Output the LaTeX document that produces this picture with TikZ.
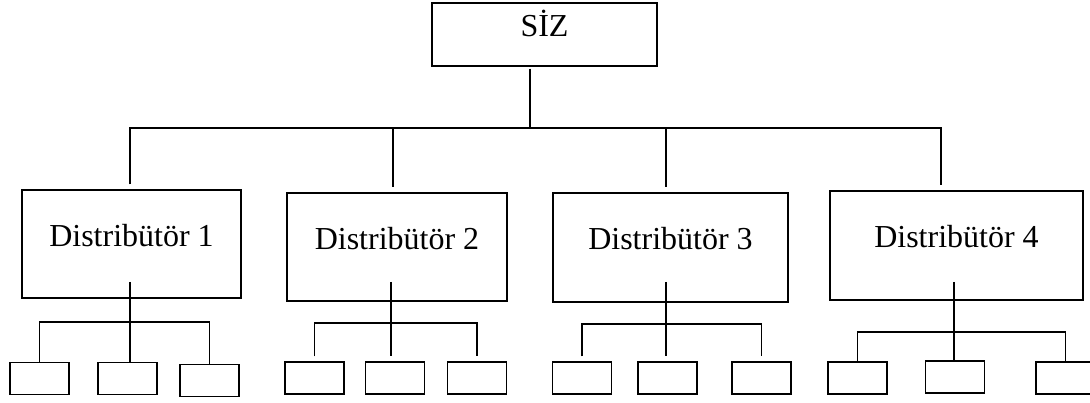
\documentclass[tikz,border=0pt]{standalone}
\usepackage{fontspec}
\setmainfont{Liberation Serif}

\begin{document}
\begin{tikzpicture}[x=1pt,y=-1pt,line width=1.3pt,
	box/.style={draw,rectangle,inner sep=0pt,font=\fontsize{32}{38}\selectfont,text height=22pt,text depth=17pt},
	kid/.style={draw,rectangle,inner sep=0pt,minimum width=59pt,minimum height=32pt}]
				\clip (0,0) rectangle (1090,403);
				\node[box,minimum width=225pt,minimum height=63pt] (siz) at (544.5,34.5) {SİZ};
				\node[box,minimum width=219pt,minimum height=108pt] (d1) at (131.5,244) {Distribütör 1};
				\node[box,minimum width=220pt,minimum height=108pt] (d2) at (397,247) {Distribütör 2};
				\node[box,minimum width=235pt,minimum height=109pt] (d3) at (670.5,247.5) {Distribütör 3};
				\node[box,minimum width=253pt,minimum height=109pt] (d4) at (956.5,245.5) {Distribütör 4};
				\node[kid] (k11) at (39.5,378.5) {};
				\node[kid] (k12) at (127.5,378.5) {};
				\node[kid] (k13) at (209.5,380.5) {};
				\node[kid] (k21) at (314.5,378) {};
				\node[kid] (k22) at (395,378) {};
				\node[kid] (k23) at (477,378) {};
				\node[kid] (k31) at (582,378) {};
				\node[kid] (k32) at (667.5,378) {};
				\node[kid] (k33) at (761.5,378) {};
				\node[kid] (k41) at (857.5,378) {};
				\node[kid] (k42) at (955,377) {};
				\node[kid] (k43) at (1065.5,378) {};
				\coordinate (hub) at (530,128);
				\coordinate (b1) at (130,128);
				\coordinate (b2) at (393,128);
				\coordinate (b3) at (666,128);
				\coordinate (b4) at (941,128);
				\draw[shorten <=2pt] (hub |- siz.south) to (hub);
				\draw[shorten <=5pt,shorten >=5pt] (b1 |- d1.north) -- (b1) -- (b4) -- (b4 |- d4.north);
				\draw[shorten >=5pt] (b2) to (b2 |- d2.north);
				\draw[shorten >=5pt] (b3) to (b3 |- d3.north);
				\foreach \i/\x/\y/\g in {1/130/322/0,2/391/323/5,3/666/324/5,4/954/332/0}{
					\coordinate (s\i) at (\x,282);
					\coordinate (j\i) at (\x,\y);
					\draw[shorten >=\g pt] (s\i) to (s\i |- k\i2.north);
					\draw[shorten <=\g pt,shorten >=\g pt] (k\i1.north) -- (k\i1.north |- j\i) -- (k\i3.north |- j\i) -- (k\i3.north);
				}
			\end{tikzpicture}
\end{document}
